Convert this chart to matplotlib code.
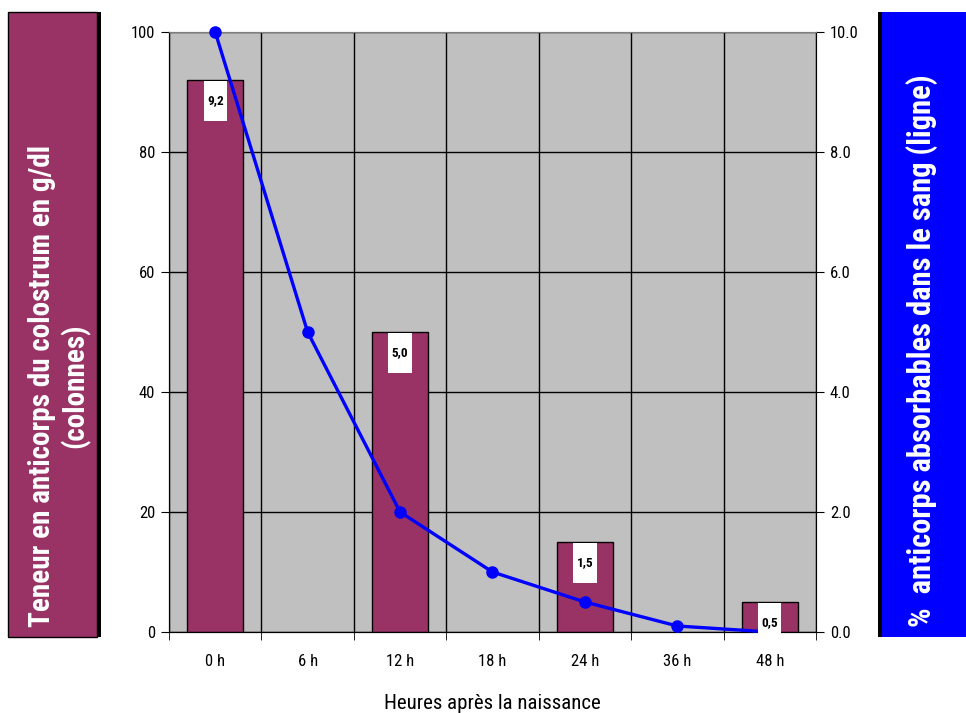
import matplotlib
matplotlib.use("Agg")
import matplotlib.pyplot as plt
from matplotlib import font_manager as fm
from matplotlib.patches import Rectangle
import numpy as np

names = {f.name for f in fm.fontManager.ttflist}
def pick(cands):
    for c in cands:
        if c in names:
            return c
    return "DejaVu Sans"
narrow = pick(["Liberation Sans Narrow", "Arial Narrow", "Roboto Condensed", "Archivo Narrow", "IBM Plex Sans Condensed"])

categories = ["0 h", "6 h", "12 h", "18 h", "24 h", "36 h", "48 h"]
bar_values = [92, np.nan, 50, np.nan, 15, np.nan, 5]
bar_labels = ["9,2", "", "5,0", "", "1,5", "", "0,5"]
line_values = [10.0, 5.0, 2.0, 1.0, 0.5, 0.1, 0.0]
left_ticks = [0, 20, 40, 60, 80, 100]
right_ticks = [0.0, 2.0, 4.0, 6.0, 8.0, 10.0]

W, H = 966, 713
fig = plt.figure(figsize=(W / 100, H / 100), dpi=100)
fig.patch.set_facecolor("white")

ax = fig.add_axes([169 / W, 1 - 632 / H, (816 - 169) / W, (632 - 32) / H])
ax.set_facecolor("#C0C0C0")
x = np.arange(len(categories))
ax.bar(x, bar_values, width=0.6, color="#993366", edgecolor="black", linewidth=1, zorder=3)
ax.set_xlim(-0.5, len(categories) - 0.5)
ax.set_ylim(0, 100)
ax.set_yticks(left_ticks)
ax.set_yticklabels([str(t) for t in left_ticks])
ax.set_xticks(x)
ax.set_xticklabels(categories)
ax.set_xticks(np.arange(-0.5, len(categories)), minor=True)
ax.tick_params(axis="x", which="major", length=0, pad=16)
ax.tick_params(axis="x", which="minor", length=6, direction="out", color="black")
ax.tick_params(axis="y", length=6, direction="out", pad=4)
ax.grid(axis="y", which="major", color="black", linewidth=1, zorder=1)
ax.grid(axis="x", which="minor", color="black", linewidth=1, zorder=1)
ax.set_axisbelow(True)
for s in ["top", "right"]:
    ax.spines[s].set_color("#808080")
for lab in ax.get_xticklabels() + ax.get_yticklabels():
    lab.set_fontfamily(narrow)
    lab.set_fontsize(12)
ax.set_xlabel("Heures après la naissance", family=narrow, fontsize=15, labelpad=18)

ax2 = ax.twinx()
ax2.plot(x, line_values, color="#0000FF", linewidth=2.4, marker="o", markersize=8, zorder=5, clip_on=False)
ax2.set_ylim(0, 10)
ax2.set_yticks(right_ticks)
ax2.set_yticklabels([f"{t:.1f}" for t in right_ticks])
ax2.tick_params(axis="y", length=6, direction="out", pad=4)
for lab in ax2.get_yticklabels():
    lab.set_fontfamily(narrow)
    lab.set_fontsize(12)
ax2.spines["right"].set_color("black")
ax2.spines["top"].set_color("#808080")
ax2.patch.set_visible(False)

for xi, v, lab in zip(x, bar_values, bar_labels):
    if lab:
        ax2.annotate(" \n" + lab + "\n ", (xi, v / 10), xytext=(0, -15), textcoords="offset points",
                     ha="center", va="center", fontsize=9.5, fontweight="bold",
                     family=narrow, zorder=6, linespacing=0.72,
                     bbox=dict(boxstyle="square,pad=0.25", fc="white", ec="none"))

def frect(x0, y0, x1, y1, **kw):
    r = Rectangle((x0 / W, 1 - y1 / H), (x1 - x0) / W, (y1 - y0) / H,
                  transform=fig.transFigure, figure=fig, zorder=10, **kw)
    fig.patches.append(r)

# left panel
frect(12, 12, 101, 637, fc="black", ec="none")
frect(8, 12, 97, 637, fc="#993366", ec="black", lw=1)
fig.text(59 / W, 1 - 386 / H, "Teneur en anticorps du colostrum en g/dl\n(colonnes)",
         rotation=90, ha="center", va="center", color="white", fontsize=21,
         fontweight="bold", family=narrow, zorder=11, linespacing=1.15)
# right panel
frect(878, 12, 970, 637, fc="#0000FF", ec="none")
frect(878, 12, 882, 637, fc="black", ec="none")
fig.text(922 / W, 1 - 351 / H, "%  anticorps absorbables dans le sang (ligne)",
         rotation=90, ha="center", va="center", color="white", fontsize=22,
         fontweight="bold", family=narrow, zorder=11)

fig.savefig("out.png", dpi=100)
